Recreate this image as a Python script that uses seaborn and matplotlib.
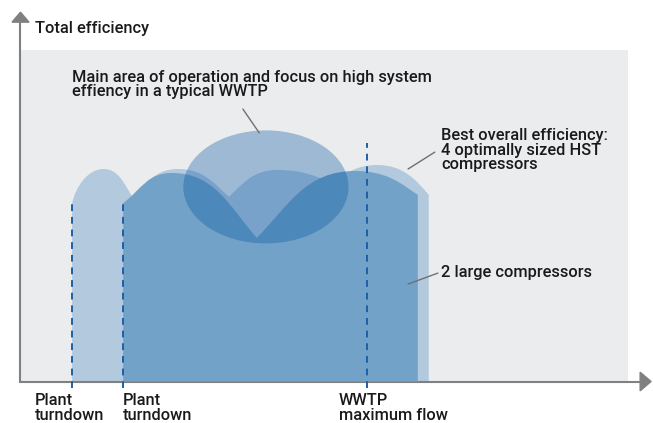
import numpy as np
import matplotlib
matplotlib.use("Agg")
import matplotlib.pyplot as plt
import seaborn as sns
from matplotlib.path import Path
from matplotlib.patches import PathPatch, Ellipse, Polygon

# --- schematic data (flow 0-100 on x, efficiency 0-100 on y) ---
# 4 optimally sized HST compressors: hump edges and hump peaks
hst_edge_x = [8.5, 18.5, 34.3, 51.3, 67.2]
hst_edge_y = [53.8, 55.4, 55.7, 59.9, 56.3]
hst_peak_x = [13.7, 25.9, 42.2, 58.8]
hst_peak_y = [64.1, 64.1, 63.8, 65.3]

# 2 large compressors
large_edge_x = [16.9, 38.9, 65.4]
large_edge_y = [53.8, 43.3, 56.3]
large_peak_x = [24.9, 55.1]
large_peak_y = [62.9, 63.5]

# main operating area (ellipse)
area_center = (40.4, 58.7)
area_size = (27.2, 34.1)

# reference flows (dashed lines)
ref_x = [8.5, 16.9, 57.0]
ref_top = [53.8, 53.8, 71.9]
ref_labels = ["Plant\nturndown", "Plant\nturndown", "WWTP\nmaximum flow"]
ref_label_x = [2.4, 16.9, 52.4]


def hump_path(edge_x, edge_y, peak_x, peak_y, edge_a, b=0.5, k=0.5):
    verts = [(edge_x[0], 0), (edge_x[0], edge_y[0])]
    codes = [Path.MOVETO, Path.LINETO]
    for i in range(len(peak_x)):
        x0, y0 = edge_x[i], edge_y[i]
        x1, y1 = edge_x[i + 1], edge_y[i + 1]
        xp, yp = peak_x[i], peak_y[i]
        a0, a1 = edge_a[i], edge_a[i + 1]
        verts += [(x0 + a0 * (xp - x0), y0 + b * (yp - y0)),
                  (xp - k * (xp - x0), yp), (xp, yp)]
        verts += [(xp + k * (x1 - xp), yp),
                  (x1 - a1 * (x1 - xp), y1 + b * (yp - y1)), (x1, y1)]
        codes += [Path.CURVE4] * 6
    verts += [(edge_x[-1], 0), (edge_x[0], 0)]
    codes += [Path.LINETO, Path.CLOSEPOLY]
    return Path(verts, codes)


sns.set_theme(style="white")
plt.rcParams["font.family"] = ["Roboto", "DejaVu Sans"]
TXT = dict(fontsize=11.8, color="#1a1a1a", fontweight="medium", linespacing=0.96)

W, H = 653, 423
fig = plt.figure(figsize=(W / 100, H / 100), dpi=100)
ax = fig.add_axes([20.5 / W, (H - 381.5) / H, 607.5 / W, 331.5 / H])
ax.set_xlim(0, 100)
ax.set_ylim(0, 100)
ax.set_facecolor("#ebeced")
ax.set_xticks([])
ax.set_yticks([])
for s in ax.spines.values():
    s.set_visible(False)

ax.add_patch(PathPatch(hump_path(hst_edge_x, hst_edge_y, hst_peak_x, hst_peak_y,
                                 [0.12, 0.3, 0.3, 0.3, 0.25]),
                       facecolor="#b3c9de", edgecolor="none", zorder=2))
ax.add_patch(PathPatch(hump_path(large_edge_x, large_edge_y, large_peak_x, large_peak_y,
                                 [0.4, 0.33, 0.28]),
                       facecolor="#73a2c8", edgecolor="none", zorder=3))
ax.add_patch(Ellipse(area_center, area_size[0], area_size[1],
                     facecolor="#0053a2", alpha=0.33, edgecolor="none", zorder=4))

# dashed reference lines
for x, top in zip(ref_x, ref_top):
    ax.plot([x, x], [-2.0, top], color="#1d5fa6", lw=1.4, ls=(0, (3.5, 3)),
            clip_on=False, zorder=5)
for x, lab in zip(ref_label_x, ref_labels):
    ax.text(x, -3.6, lab, ha="left", va="top", **TXT)

# axes with arrows
grey = "#808080"
ax.plot([0, 0], [0, 1.09], color=grey, lw=1.5, transform=ax.transAxes, clip_on=False)
ax.plot([0, 1.025], [0, 0], color=grey, lw=1.5, transform=ax.transAxes, clip_on=False)
ax.add_patch(Polygon([[-0.014, 1.084], [0.014, 1.084], [0, 1.114]], closed=True,
                     color=grey, transform=ax.transAxes, clip_on=False))
ax.add_patch(Polygon([[1.020, -0.028], [1.020, 0.028], [1.038, 0]], closed=True,
                     color=grey, transform=ax.transAxes, clip_on=False))

# texts
ax.text(2.4, 106.6, "Total efficiency", ha="left", va="center", **TXT)
ax.text(8.5, 94.0, "Main area of operation and focus on high system\neffiency in a typical WWTP",
        ha="left", va="top", **TXT)
ax.text(69.2, 76.4, "Best overall efficiency:\n4 optimally sized HST\ncompressors",
        ha="left", va="top", **TXT)
ax.text(69.2, 33.0, "2 large compressors", ha="left", va="center", **TXT)

# leader lines
for (x0, y0), (x1, y1) in [((36.6, 82.2), (39.3, 75.0)),
                           ((63.8, 64.1), (68.2, 69.2)),
                           ((63.8, 29.4), (68.7, 32.7))]:
    ax.plot([x0, x1], [y0, y1], color="#707070", lw=1.0, zorder=6)

fig.savefig("out.png", dpi=100)
